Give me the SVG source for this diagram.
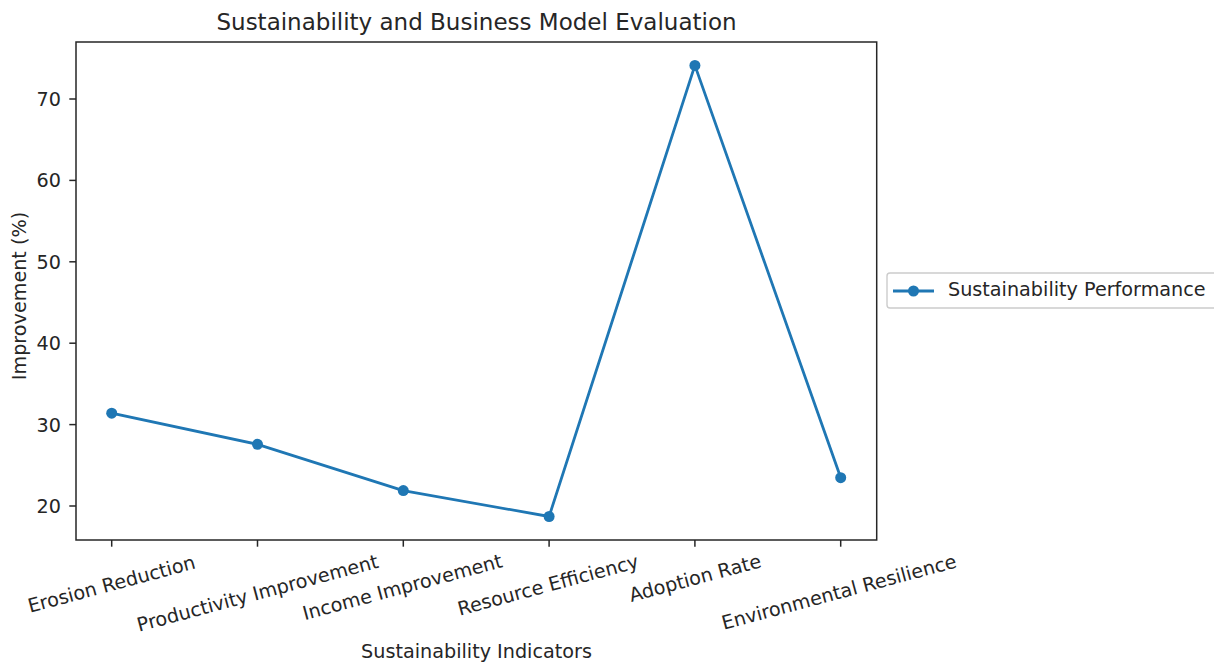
<svg xmlns="http://www.w3.org/2000/svg" width="1214" height="667" viewBox="0 0 1214 667">
<style>
text{font-family:"DejaVu Sans",sans-serif;fill:#262626}
.t{font-size:19.2px}
.title{font-size:23px}
.tick{stroke:#262626;stroke-width:1.5}
.series{fill:none;stroke:#1f77b4;stroke-width:2.8;stroke-linejoin:round;stroke-linecap:square}
.mk{fill:#1f77b4}
</style>
<rect width="1214" height="667" fill="#ffffff"/>
<g id="title"><text class="title" x="476.5" y="29.5" text-anchor="middle">Sustainability and Business Model Evaluation</text></g>
<g id="yaxis">
<line class="tick" x1="69.3" y1="99" x2="76" y2="99"/>
<line class="tick" x1="69.3" y1="180.4" x2="76" y2="180.4"/>
<line class="tick" x1="69.3" y1="261.8" x2="76" y2="261.8"/>
<line class="tick" x1="69.3" y1="343.2" x2="76" y2="343.2"/>
<line class="tick" x1="69.3" y1="424.6" x2="76" y2="424.6"/>
<line class="tick" x1="69.3" y1="506" x2="76" y2="506"/>
<text class="t" x="61" y="106" text-anchor="end">70</text>
<text class="t" x="61" y="187.4" text-anchor="end">60</text>
<text class="t" x="61" y="268.8" text-anchor="end">50</text>
<text class="t" x="61" y="350.2" text-anchor="end">40</text>
<text class="t" x="61" y="431.6" text-anchor="end">30</text>
<text class="t" x="61" y="513" text-anchor="end">20</text>
<text class="t" transform="translate(25.5,296) rotate(-90)" text-anchor="middle">Improvement (%)</text>
</g>
<g id="xaxis">
<line class="tick" x1="111.7" y1="540" x2="111.7" y2="546.7"/>
<line class="tick" x1="257.5" y1="540" x2="257.5" y2="546.7"/>
<line class="tick" x1="403.3" y1="540" x2="403.3" y2="546.7"/>
<line class="tick" x1="549.1" y1="540" x2="549.1" y2="546.7"/>
<line class="tick" x1="694.9" y1="540" x2="694.9" y2="546.7"/>
<line class="tick" x1="840.7" y1="540" x2="840.7" y2="546.7"/>
<text class="t" transform="translate(111.5,584) rotate(-15)" text-anchor="middle" dy="0.35em">Erosion Reduction</text>
<text class="t" transform="translate(257.5,593) rotate(-15)" text-anchor="middle" dy="0.35em">Productivity Improvement</text>
<text class="t" transform="translate(402.5,587) rotate(-15)" text-anchor="middle" dy="0.35em">Income Improvement</text>
<text class="t" transform="translate(548,585) rotate(-15)" text-anchor="middle" dy="0.35em">Resource Efficiency</text>
<text class="t" transform="translate(695,578) rotate(-15)" text-anchor="middle" dy="0.35em">Adoption Rate</text>
<text class="t" transform="translate(839,592) rotate(-15)" text-anchor="middle" dy="0.35em">Environmental Resilience</text>
<text class="t" x="476.5" y="658" text-anchor="middle">Sustainability Indicators</text>
</g>
<g id="series">
<polyline class="series" points="111.7,413.2 257.5,444.3 403.3,490.6 549.1,516.5 694.9,65.4 840.7,477.7"/>
<circle class="mk" cx="111.7" cy="413.2" r="5.5"/>
<circle class="mk" cx="257.5" cy="444.3" r="5.5"/>
<circle class="mk" cx="403.3" cy="490.6" r="5.5"/>
<circle class="mk" cx="549.1" cy="516.5" r="5.5"/>
<circle class="mk" cx="694.9" cy="65.4" r="5.5"/>
<circle class="mk" cx="840.7" cy="477.7" r="5.5"/>
</g>
<g id="frame"><rect x="76" y="42" width="800.7" height="498" fill="none" stroke="#262626" stroke-width="1.5"/></g>
<g id="legend">
<rect x="887" y="273" width="330" height="35" rx="3" fill="#ffffff" fill-opacity="0.8" stroke="#cccccc" stroke-width="1.4"/>
<line x1="893" y1="291" x2="934" y2="291" stroke="#1f77b4" stroke-width="2.8"/>
<circle class="mk" cx="913.5" cy="291" r="5.5"/>
<text class="t" x="948" y="295.5">Sustainability Performance</text>
</g>
</svg>
